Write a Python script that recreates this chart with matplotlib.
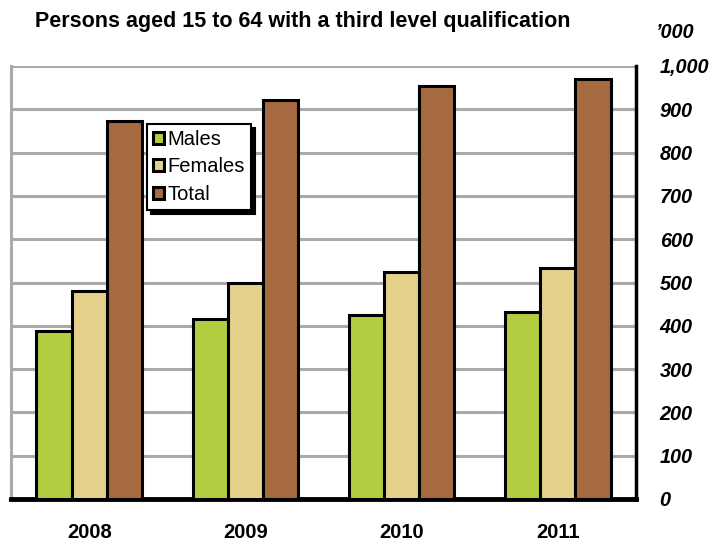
import numpy as np
import matplotlib.pyplot as plt
from matplotlib.ticker import FuncFormatter

plt.rcParams['font.family'] = ['Liberation Sans', 'DejaVu Sans']

years = ['2008', '2009', '2010', '2011']
males = [389, 416, 424, 433]
females = [481, 499, 525, 533]
total = [874, 921, 954, 970]

colours = ['#b2cd3f', '#e5d08c', '#a56a3f']
names = ['Males', 'Females', 'Total']

fig = plt.figure(figsize=(7.13, 5.43), dpi=100)
ax = fig.add_axes([11 / 713, 1 - 499 / 543, 625 / 713, 433 / 543])

x = np.arange(len(years))
w = 0.225
for i, (vals, c, n) in enumerate(zip([males, females, total], colours, names)):
    ax.bar(x + (i - 1) * w, vals, w, color=c, edgecolor='black', linewidth=2.2,
           label=n, zorder=3)

ax.set_xlim(-0.5, 3.5)
ax.set_ylim(0, 1000)
ax.set_yticks(range(0, 1001, 100))
ax.yaxis.grid(True, color='#aaaaaa', linewidth=2.2, zorder=0)
ax.yaxis.tick_right()
ax.tick_params(axis='y', length=0, pad=17)
ax.yaxis.set_major_formatter(FuncFormatter(lambda v, p: f'{int(v):,}'))
for lab in ax.get_yticklabels():
    lab.set_fontweight('bold')
    lab.set_fontstyle('italic')
    lab.set_fontsize(14.3)
    lab.set_horizontalalignment('left')

ax.set_xticks(x)
ax.set_xticklabels(years, fontweight='bold', fontsize=14.5)
ax.tick_params(axis='x', length=0, pad=17)

ax.spines['top'].set_visible(False)
ax.spines['left'].set_color('#aaaaaa')
ax.spines['left'].set_linewidth(2.2)
ax.spines['right'].set_color('black')
ax.spines['right'].set_linewidth(2.5)
ax.spines['bottom'].set_color('black')
ax.spines['bottom'].set_linewidth(3.5)

fig.text(35 / 713, 1 - 22 / 543, 'Persons aged 15 to 64 with a third level qualification',
         fontsize=15.5, fontweight='bold', va='center', ha='left')
fig.text(655 / 713, 1 - 32 / 543, "\u2019000", fontsize=14.3, fontweight='bold',
         fontstyle='italic', va='center', ha='left')

leg = ax.legend(loc='upper left', bbox_to_anchor=(136 / 625, 1 - 58 / 433),
                fontsize=14.5, frameon=True, fancybox=False,
                shadow={'color': 'black', 'alpha': 1, 'ox': 3, 'oy': -3},
                handlelength=0.55, handleheight=0.55, handletextpad=0.15,
                borderpad=0.3, labelspacing=0.42, borderaxespad=0)
leg.get_frame().set_edgecolor('black')
leg.get_frame().set_linewidth(1.5)
leg.set_zorder(5)

fig.savefig('out.png', dpi=100)
